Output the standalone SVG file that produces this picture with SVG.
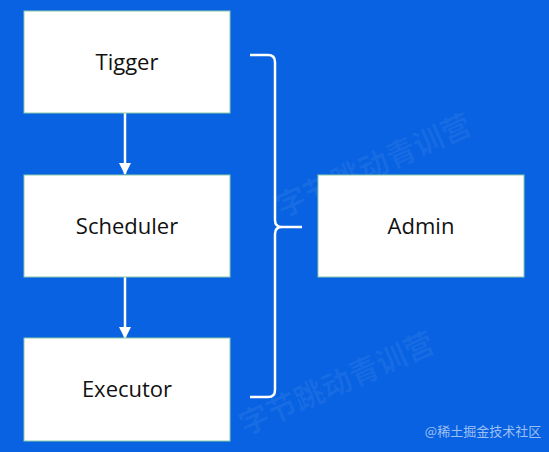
<svg xmlns="http://www.w3.org/2000/svg" width="549" height="452" viewBox="0 0 549 452">
<style>
.box{fill:#ffffff;stroke:#8cc9a8;stroke-width:1}
.lbl{font-family:"Open Sans","Noto Sans","Liberation Sans",sans-serif;font-size:22px;fill:#111111;text-anchor:middle}
.conn{stroke:#ffffff;stroke-width:2.5;fill:none}
.wm{font-family:"Noto Sans CJK SC","Noto Sans",sans-serif;font-weight:bold;font-size:30px;fill:#ffffff;fill-opacity:0.06}
</style>
<defs>
<marker id="ah" viewBox="0 0 12 12" refX="11" refY="6" markerWidth="12" markerHeight="12" markerUnits="userSpaceOnUse" orient="auto">
<path d="M0,0 L12,6 L0,12 Z" fill="#ffffff"/>
</marker>
</defs>
<rect width="549" height="452" fill="#0862e2"/>
<g id="watermark">
<text class="wm" transform="translate(282,218) rotate(-24)">字节跳动青训营</text>
<text class="wm" transform="translate(245,436) rotate(-24)">字节跳动青训营</text>
</g>
<g id="connectors">
<line class="conn" x1="125" y1="113" x2="125" y2="174" marker-end="url(#ah)"/>
<line class="conn" x1="125" y1="277" x2="125" y2="338" marker-end="url(#ah)"/>
<path id="brace" class="conn" d="M250,55 L268,55 Q275,55 275,62 L275,220 Q275,227 282,227 L302,227 M282,227 Q275,227 275,234 L275,390 Q275,397 268,397 L250,397"/>
</g>
<g id="tigger">
<rect class="box" x="24" y="11" width="206" height="102"/>
<text class="lbl" x="127" y="70">Tigger</text>
</g>
<g id="scheduler">
<rect class="box" x="24" y="175" width="206" height="102"/>
<text class="lbl" x="127" y="234">Scheduler</text>
</g>
<g id="executor">
<rect class="box" x="24" y="338" width="206" height="103"/>
<text class="lbl" x="127" y="397">Executor</text>
</g>
<g id="admin">
<rect class="box" x="318" y="175" width="206" height="102"/>
<text class="lbl" x="421" y="234">Admin</text>
</g>
<text x="483" y="436" font-family="Noto Sans CJK SC,sans-serif" font-size="13" fill="#ffffff" fill-opacity="0.6" text-anchor="middle">@稀土掘金技术社区</text>
</svg>
